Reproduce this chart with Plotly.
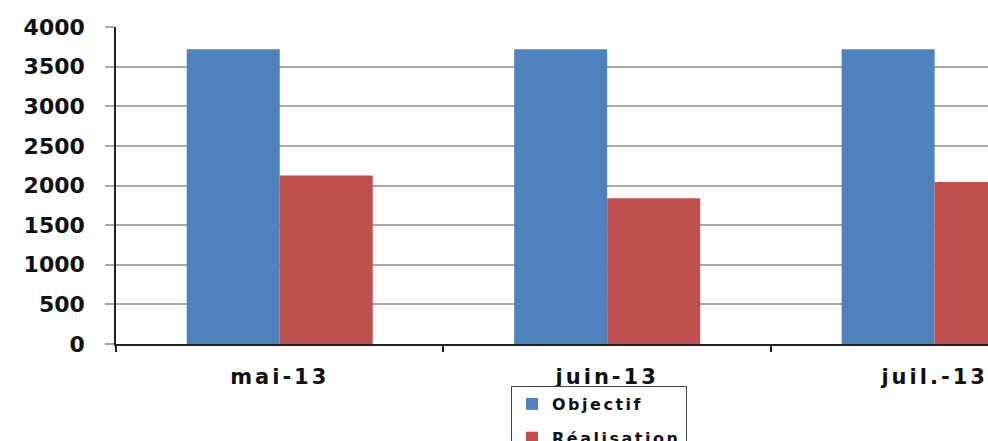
import plotly.graph_objects as go

# Monthly target vs. achieved figures
months = ["mai-13", "juin-13", "juil.-13"]
objectif = [3720, 3720, 3720]
realisation = [2125, 1840, 2045]
series_names = ["Objectif", "Réalisation"]
y_ticks = [0, 500, 1000, 1500, 2000, 2500, 3000, 3500, 4000]

BLUE = "#4F81BD"
RED = "#C0504D"
FONT = "DejaVu Sans"


def spaced(text, px):
    return f'<span style="letter-spacing:{px}px">{text}</span>'


fig = go.Figure()
fig.add_trace(go.Bar(
    x=months, y=objectif, name=spaced(series_names[0], 2.5),
    marker=dict(color=BLUE, line=dict(width=0)), legendgroup="a",
))
fig.add_trace(go.Bar(
    x=months, y=realisation, name=spaced(series_names[1], 2.5),
    marker=dict(color=RED, line=dict(width=0)), legendgroup="b",
))

fig.update_layout(
    width=988, height=441,
    margin=dict(l=116, r=0, t=27, b=97, autoexpand=False),
    paper_bgcolor="white", plot_bgcolor="white",
    barmode="group", bargap=0.432, bargroupgap=0,
    font=dict(family=FONT, color="#111111", weight="bold"),
    showlegend=True,
    legend=dict(
        x=0.453, y=-0.1325, xanchor="left", yanchor="top",
        bordercolor="#444444", borderwidth=1, bgcolor="white",
        font=dict(size=16, family=FONT, color="#111111", weight="bold"),
        tracegroupgap=10,
    ),
)

fig.update_xaxes(
    type="category", range=[-0.5, 2.163],
    tickmode="array", tickvals=months,
    ticktext=[spaced(m, 3) for m in months],
    tickfont=dict(size=21, family=FONT, color="#111111", weight="bold"),
    showline=True, linecolor="#222222", linewidth=1.5,
    ticks="outside", tickson="boundaries", ticklen=6, tickcolor="#222222", tickwidth=1.5,
    ticklabelstandoff=13,
    showgrid=False, zeroline=False, fixedrange=True,
)
fig.update_yaxes(
    range=[0, 4000],
    tickmode="array", tickvals=y_ticks,
    ticktext=[str(v) for v in y_ticks],
    tickfont=dict(size=22, family=FONT, color="#111111", weight="bold"),
    showgrid=True, gridcolor="#A8A8A8", gridwidth=2,
    showline=True, linecolor="#222222", linewidth=1.5,
    ticks="outside", ticklen=9, tickcolor="#A8A8A8", tickwidth=2,
    ticklabelstandoff=16,
    zeroline=False, fixedrange=True,
)

fig.write_html("out.html")
